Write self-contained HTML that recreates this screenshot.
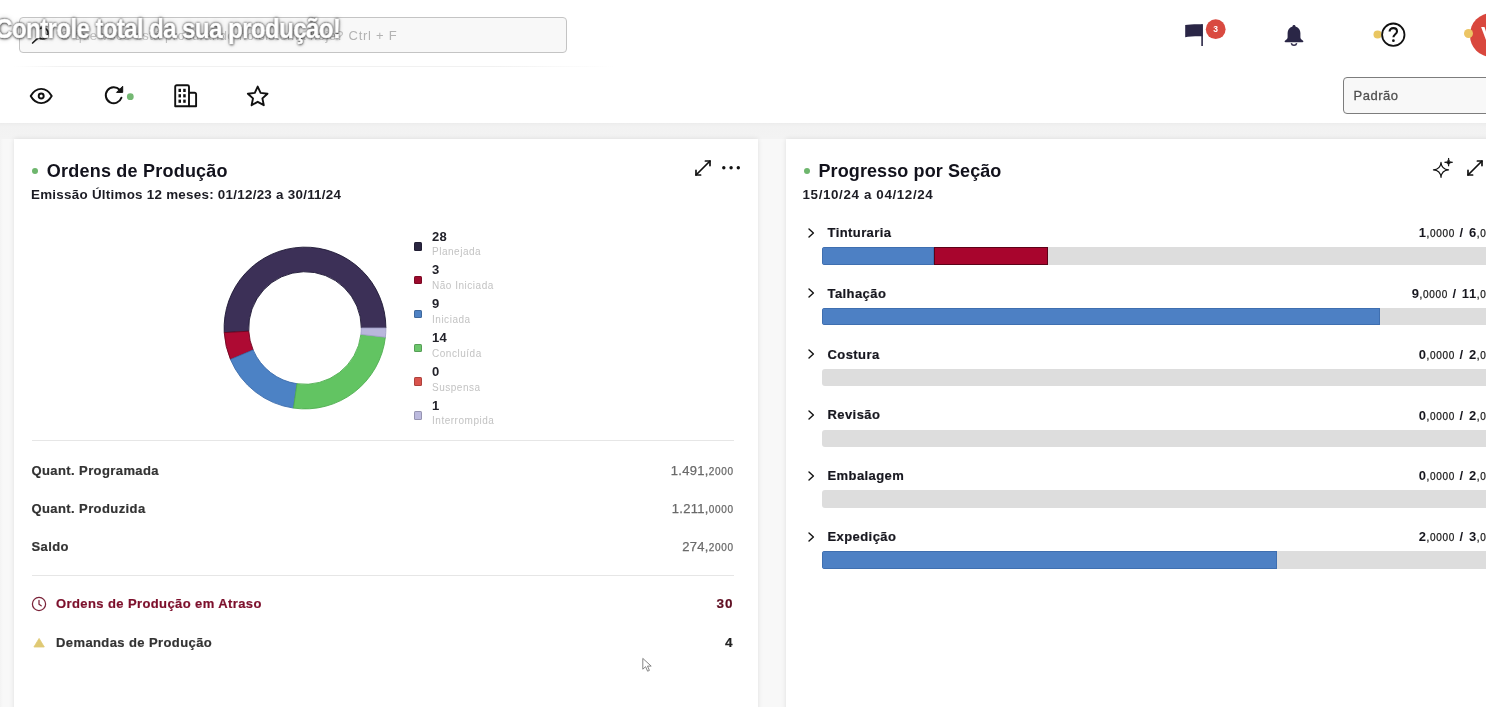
<!DOCTYPE html>
<html lang="pt-BR"><head>
<meta charset="utf-8">
<title>Controle total da sua produção!</title>
<style>
*{box-sizing:border-box;margin:0;padding:0}
html,body{width:1486px;height:707px;overflow:hidden;background:#f8f8f8;font-family:"Liberation Sans",sans-serif;color:#15151f}
#root{position:absolute;left:0;top:0;width:1486px;height:707px;overflow:hidden;will-change:transform;background:#f8f8f8}
.abs{position:absolute}
.t{position:absolute;white-space:nowrap;line-height:1}
#band{left:0;top:122px;width:1486px;height:17px;background:linear-gradient(#e9e9e9 0,#efefef 2.500px,#f2f2f2 5px,#f3f3f3 100%)}
#topbar{left:0;top:0;width:1486px;height:122.600px;background:#fff}
#leftstrip{left:0;top:139px;width:3px;height:600px;background:linear-gradient(90deg,#f3f3f3,#f8f8f8)}
#search{left:18.5px;top:16.800px;width:548px;height:36px;border:1.500px solid #c4c4c4;border-radius:4px;background:#f8f8f8}
#ph{left:60px;top:28.5px;font-size:13px;color:#c2c2c2;letter-spacing:.42px}
#ph2{left:348.5px;top:28.5px;font-size:13px;color:#b3b3b3;letter-spacing:.75px}
#overlay{left:-5.500px;top:15px;will-change:transform;-webkit-text-stroke:.5px #fff;font-size:28px;font-weight:bold;color:#fff;letter-spacing:-.8px;transform:scaleX(.867);transform-origin:0 0;
 text-shadow:0 0 2px rgba(0,0,0,.8),0 0 3px rgba(0,0,0,.5),.5px 1px 3px rgba(0,0,0,.5),0 0 6px rgba(0,0,0,.22)}
#sel{left:1342.5px;top:77px;width:160px;height:36.5px;border:1.5px solid #7d7d7d;border-radius:4px;background:#f8f8f8}
#seltxt{left:1353.5px;top:89px;font-size:13px;color:#505050;letter-spacing:.5px;-webkit-text-stroke:.3px #505050}
.card{position:absolute;background:#fff;box-shadow:0 0 5px rgba(0,0,0,.1)}
#c1{left:14px;top:139px;width:744px;height:600px}
#c2{left:786px;top:139px;width:738px;height:600px}
.h1{font-size:18px;font-weight:bold;color:#12121c;letter-spacing:.22px}
.h2{font-size:13.4px;font-weight:bold;color:#1c1c24;letter-spacing:.26px}
.row{font-size:13px;font-weight:bold;color:#333;letter-spacing:.4px;-webkit-text-stroke:.2px currentColor}
.val{font-size:13px;color:#6a6a6a;text-align:right;letter-spacing:.3px;-webkit-text-stroke:.25px #6a6a6a}
.val small{font-size:10px;letter-spacing:.65px;margin-right:-.65px}
.sep{position:absolute;height:1px;background:#e6e6e6;left:31.5px;width:702px}
.lg-n{font-size:13px;font-weight:bold;color:#22222a;letter-spacing:.3px}
.lg-l{font-size:10px;color:#c3c3c3;letter-spacing:.52px}
.sq{position:absolute;width:8.6px;height:8.6px;border-radius:1.5px;left:413.6px;box-shadow:inset 0 0 0 1px rgba(0,0,0,.2)}
.sec{font-size:13px;font-weight:bold;color:#17171f;letter-spacing:.42px;-webkit-text-stroke:.2px currentColor}
.bar{position:absolute;left:821.5px;width:685px;height:17.5px;border-radius:3px;background:#dddddd;overflow:hidden}
.bar i{position:absolute;top:0;height:100%;display:block}
.sv{font-size:13px;font-weight:bold;color:#17171f;text-align:right;letter-spacing:.55px;word-spacing:1px}
.sv small{font-size:10px;font-weight:normal;color:#1c1c1c;letter-spacing:.7px;margin-right:-.7px;-webkit-text-stroke:.25px #1c1c1c}
</style>
</head>
<body>
<div id="root">
<div id="band" class="abs"></div>
<div id="topbar" class="abs"></div>
<div id="leftstrip" class="abs"></div>

<div class="abs" style="left:14px;top:65.500px;width:600px;height:1.500px;background:linear-gradient(90deg,rgba(238,238,238,0),#f1f1f1 8%,#f1f1f1 80%,rgba(238,238,238,0))"></div>
<!-- search -->
<div id="search" class="abs"></div>
<svg class="abs" style="left:28px;top:24px" width="24" height="24" viewBox="0 0 24 24" fill="none" stroke="#222" stroke-width="1.7" stroke-linecap="round"><circle cx="14.6" cy="9.4" r="5.6"></circle><path d="M10.4 13.6 4.6 19"></path></svg>
<div id="ph" class="t">O que você está procurando no sistema hoje?</div>
<div id="ph2" class="t">Ctrl + F</div>
<div id="overlay" class="t">Controle total da sua produção!</div>

<!-- top-right icons -->
<svg class="abs" style="left:1180px;top:18px" width="50" height="34" viewBox="0 0 50 34">
 <path d="M5.2 6.9 C9 6.2 16 6 22.6 6.2 L22.6 18.2 C16 18 9 18.4 5.2 19.2 Z" fill="#2a2646"></path>
 <path d="M22.1 6.2 V28" stroke="#2a2646" stroke-width="1.6" fill="none"></path>
 <circle cx="35.7" cy="11.2" r="9.9" fill="#d94a40"></circle>
 <text x="35.7" y="14.300" font-family="Liberation Sans, sans-serif" font-weight="bold" font-size="8.500" fill="#fff" text-anchor="middle">3</text>
</svg>
<svg class="abs" style="left:1281px;top:22px" width="26" height="26" viewBox="0 0 26 26">
 <path d="M13 3 c-.9 0-1.5.6-1.5 1.4 C8.300 5.3 6.600 8 6.600 11 v4.300 c0 1.200-.9 2.300-2.400 3.200 c-.8.5-.9 1.700.4 1.700 h16.800 c1.300 0 1.200-1.200.4-1.700 c-1.500-.9-2.400-2-2.400-3.200 V11 c0-3-1.700-5.700-4.900-6.600 C14.500 3.600 13.900 3 13 3z" fill="#2a2646"></path>
 <path d="M10.300 21.200 a2.800 2.800 0 0 0 5.400 0" fill="none" stroke="#2a2646" stroke-width="1.500"></path>
</svg>
<svg class="abs" style="left:1370px;top:20px" width="40" height="30" viewBox="0 0 40 30">
 <circle cx="7.6" cy="14.5" r="4.1" fill="#e9c661"></circle>
 <circle cx="23.3" cy="14.7" r="11.2" fill="#fff" stroke="#111" stroke-width="1.8"></circle>
 <path d="M19.600 11.600 c0-2.200 1.600-3.500 3.700-3.500 s3.700 1.300 3.700 3.300 c0 2.700-3.600 2.900-3.600 5.800" fill="none" stroke="#111" stroke-width="2.100"></path>
 <circle cx="23.4" cy="20.700" r="1.350" fill="#111"></circle>
</svg>
<div class="abs" style="left:1470px;top:13.300px;width:43.400px;height:43.400px;border-radius:50%;background:#d9473d"></div>
<div class="t" style="left:1481px;top:24px;font-size:22px;font-weight:bold;color:#fff">V</div>
<div class="abs" style="left:1464px;top:28.500px;width:9px;height:9px;border-radius:50%;background:#ecc565"></div>

<!-- toolbar icons -->
<svg class="abs" style="left:29px;top:83.500px" width="24" height="24" viewBox="0 0 24 24" fill="none" stroke="#111" stroke-width="1.900" stroke-linejoin="round"><path d="M1.700 12 C4.300 7.300 8 4.900 12.200 4.900 s7.900 2.400 10.500 7.100 C20.100 16.700 16.400 19.100 12.200 19.100 S4.300 16.700 1.700 12z"></path><circle cx="12.200" cy="12" r="2.500"></circle></svg>
<svg class="abs" style="left:102px;top:83px" width="34" height="24" viewBox="0 0 34 24" fill="none" stroke="#111" stroke-width="2" stroke-linecap="round" stroke-linejoin="round"><path d="M17.600 6.700 A8 8 0 1 0 19.400 14.800"></path><path d="M20.700 3.600 V9.400 H14.900z" fill="#111" stroke-width="1"></path><circle cx="28.300" cy="13.700" r="3.400" fill="#74b873" stroke="none"></circle></svg>
<svg class="abs" style="left:172px;top:82px" width="28" height="28" viewBox="0 0 28 28" fill="none" stroke="#111" stroke-width="1.900" stroke-linejoin="round"><path d="M3.200 24.200 V4.800 a1.500 1.500 0 0 1 1.500 -1.500 h10.800 a1.500 1.500 0 0 1 1.500 1.500 V24.200z"></path><path d="M17 10.800 h5.600 a1.500 1.500 0 0 1 1.500 1.500 V24.200 H17"></path><g fill="#111" stroke="none"><rect x="6.500" y="6.800" width="2.500" height="3.200"></rect><rect x="11.200" y="6.800" width="2.500" height="3.200"></rect><rect x="6.500" y="12.200" width="2.500" height="3.200"></rect><rect x="11.200" y="12.200" width="2.500" height="3.200"></rect><rect x="6.500" y="17.600" width="2.500" height="3.200"></rect><rect x="11.200" y="17.600" width="2.500" height="3.200"></rect></g></svg>
<svg class="abs" style="left:245px;top:83px" width="26" height="26" viewBox="0 0 26 26" fill="none" stroke="#111" stroke-width="1.900" stroke-linejoin="round"><path d="M12.700 3.600 l2.900 6.300 6.900.8 -5.100 4.700 1.400 6.800 -6.100-3.400 -6.100 3.400 1.400-6.800 -5.100-4.700 6.900-.8z"></path></svg>

<!-- select -->
<div id="sel" class="abs"></div>
<div id="seltxt" class="t">Padrão</div>

<!-- cards -->
<div id="c1" class="card"></div>
<div id="c2" class="card"></div>

<!-- card 1 header -->
<div class="abs" style="left:31.700px;top:168.400px;width:6px;height:6px;border-radius:50%;background:#6eb66d"></div>
<div id="t1" class="t h1" style="left:46.800px;top:162.200px">Ordens de Produção</div>
<div id="s1" class="t h2" style="left:31px;top:187.700px">Emissão Últimos 12 meses: 01/12/23 a 30/11/24</div>
<svg class="abs" style="left:692px;top:157px" width="22" height="22" viewBox="0 0 22 22" fill="none" stroke="#111" stroke-width="1.700" stroke-linecap="round" stroke-linejoin="round"><path d="M4 18 18 4"></path><path d="M13.400 4 h4.600 v4.600"></path><path d="M4 13.400 v4.600 h4.600"></path></svg>
<svg class="abs" style="left:720px;top:164px" width="22" height="8" viewBox="0 0 22 8" fill="#111"><circle cx="3.800" cy="3.700" r="1.700"></circle><circle cx="11.100" cy="3.700" r="1.700"></circle><circle cx="18.300" cy="3.700" r="1.700"></circle></svg>

<!-- donut -->
<svg id="donut" class="abs" style="left:214px;top:237px" width="182" height="182" viewBox="-91 -91 182 182"><path d="M80.90 0.00 A80.9 80.9 0 1 0 -80.77 4.62 L-56.21 3.21 A56.3 56.3 0 1 1 56.30 0.00Z" fill="#3c3057" stroke="#1d1734" stroke-width=".9" stroke-linejoin="round"></path><path d="M-80.77 4.62 A80.9 80.9 0 0 0 -74.52 31.49 L-51.86 21.92 A56.3 56.3 0 0 1 -56.21 3.21Z" fill="#ae0a33" stroke="#6e0420" stroke-width=".9" stroke-linejoin="round"></path><path d="M-74.52 31.49 A80.9 80.9 0 0 0 -11.51 80.08 L-8.01 55.73 A56.3 56.3 0 0 1 -51.86 21.92Z" fill="#4c82c5" stroke="#3c6cab" stroke-width=".9" stroke-linejoin="round"></path><path d="M-11.51 80.08 A80.9 80.9 0 0 0 80.37 9.22 L55.93 6.42 A56.3 56.3 0 0 1 -8.01 55.73Z" fill="#62c462" stroke="#4fae50" stroke-width=".9" stroke-linejoin="round"></path><path d="M80.37 9.22 A80.9 80.9 0 0 0 80.90 0.00 L56.30 0.00 A56.3 56.3 0 0 1 55.93 6.42Z" fill="#b9b7dc" stroke="#a2a0c8" stroke-width=".9" stroke-linejoin="round"></path></svg>

<!-- legend -->
<div id="legend"><div class="sq" style="top:242.1px;background:#2a2640"></div><div class="t lg-n" style="left:432px;top:229.6px">28</div><div class="t lg-l" style="left:432px;top:247.4px">Planejada</div><div class="sq" style="top:275.9px;background:#9c0a2c"></div><div class="t lg-n" style="left:432px;top:263.4px">3</div><div class="t lg-l" style="left:432px;top:281.2px">Não Iniciada</div><div class="sq" style="top:309.7px;background:#4f82c4"></div><div class="t lg-n" style="left:432px;top:297.2px">9</div><div class="t lg-l" style="left:432px;top:315px">Iniciada</div><div class="sq" style="top:343.5px;background:#6cc66c"></div><div class="t lg-n" style="left:432px;top:331px">14</div><div class="t lg-l" style="left:432px;top:348.8px">Concluída</div><div class="sq" style="top:377.3px;background:#d9534c"></div><div class="t lg-n" style="left:432px;top:364.8px">0</div><div class="t lg-l" style="left:432px;top:382.6px">Suspensa</div><div class="sq" style="top:411.099px;background:#bcbade"></div><div class="t lg-n" style="left:432px;top:398.599px">1</div><div class="t lg-l" style="left:432px;top:416.4px">Interrompida</div></div>

<div class="sep" style="top:440px"></div>
<div id="r1" class="t row" style="left:31.500px;top:464px">Quant. Programada</div>
<div id="r2" class="t row" style="left:31.500px;top:502px">Quant. Produzida</div>
<div id="r3" class="t row" style="left:31.500px;top:540px">Saldo</div>
<div id="v1" class="t val" style="right:753px;top:464px">1.491,<small>2000</small></div>
<div id="v2" class="t val" style="right:753px;top:502px">1.211,<small>0000</small></div>
<div id="v3" class="t val" style="right:753px;top:540px">274,<small>2000</small></div>
<div class="sep" style="top:574.500px"></div>

<svg class="abs" style="left:30px;top:595px" width="18" height="18" viewBox="0 0 18 18" fill="none" stroke="#7a2238" stroke-width="1.250" stroke-linecap="round" stroke-linejoin="round"><circle cx="9" cy="9" r="6.600"></circle><path d="M9 5.300 V9.200 l2.200 1.600"></path></svg>
<div id="r4" class="t row" style="left:56px;top:597px;color:#7c0f2b">Ordens de Produção em Atraso</div>
<div id="v4" class="t row" style="right:752.500px;top:596.800px;color:#5e0c20;font-size:13.500px;letter-spacing:1px">30</div>
<svg class="abs" style="left:32px;top:636px" width="14" height="13" viewBox="0 0 14 13"><path d="M7.100 2.400 12.300 11 H1.900z" fill="#dfc974" stroke="#dfc974" stroke-width=".8" stroke-linejoin="round"></path></svg>
<div id="r5" class="t row" style="left:56px;top:635.500px">Demandas de Produção</div>
<div id="v5" class="t row" style="right:753px;top:635.800px;color:#222;font-size:13.500px">4</div>

<!-- cursor -->
<svg class="abs" style="left:641px;top:657px" width="13" height="16" viewBox="0 0 13 16"><path d="M1.800 1.400 V12.200 L4.600 9.700 L6.600 14.200 L8.400 13.400 L6.500 9.100 H10.200z" fill="#fff" stroke="#777" stroke-width=".9" stroke-linejoin="round"></path></svg>

<!-- card 2 header -->
<div class="abs" style="left:803.600px;top:168.400px;width:6px;height:6px;border-radius:50%;background:#6eb66d"></div>
<div id="t2" class="t h1" style="left:818.500px;top:162.200px;letter-spacing:.1px">Progresso por Seção</div>
<div id="s2" class="t h2" style="left:802.500px;top:187.700px;letter-spacing:.62px">15/10/24 a 04/12/24</div>
<svg class="abs" style="left:1430px;top:155px" width="26" height="26" viewBox="0 0 26 26" fill="none" stroke="#111" stroke-width="1.200" stroke-linejoin="round" stroke-linecap="round">
 <path d="M11 7.300 Q11.500 14.400 18.600 14.900 Q11.500 15.400 11 22.500 Q10.500 15.400 3.400 14.900 Q10.500 14.400 11 7.300z" stroke-width="1.100"></path>
 <path d="M18.600 3.400 C18.800 6 19.500 6.900 22.600 7.300 C19.500 7.700 18.800 8.600 18.600 11.200 C18.400 8.600 17.700 7.700 14.600 7.300 C17.700 6.900 18.400 6 18.600 3.400z" fill="#111" stroke-width=".9"></path>
</svg>
<svg class="abs" style="left:1464px;top:157px" width="22" height="22" viewBox="0 0 22 22" fill="none" stroke="#111" stroke-width="1.700" stroke-linecap="round" stroke-linejoin="round"><path d="M4 18 18 4"></path><path d="M13.400 4 h4.600 v4.600"></path><path d="M4 13.400 v4.600 h4.600"></path></svg>

<div id="sections"><svg class="abs" style="left:806px;top:225.6px" width="10" height="14" viewBox="0 0 10 14" fill="none" stroke="#111" stroke-width="1.400" stroke-linecap="round" stroke-linejoin="round"><path d="M3 3 7.400 7 3 11"></path></svg><div class="t sec" style="left:827.500px;top:226px">Tinturaria</div><div class="t sv" style="right:-18.500px;top:226.2px">1<small>,0000</small> / 6<small>,0000</small></div><div class="bar" style="top:247.1px"><i style="left:0px;width:112.6px;background:#4d80c4;box-shadow:inset 0 0 0 1px #3f6fb0"></i><i style="left:112.6px;width:114.4px;background:#a8052d;box-shadow:inset 0 0 0 1px #5c0218"></i></div><svg class="abs" style="left:806px;top:286.4px" width="10" height="14" viewBox="0 0 10 14" fill="none" stroke="#111" stroke-width="1.400" stroke-linecap="round" stroke-linejoin="round"><path d="M3 3 7.400 7 3 11"></path></svg><div class="t sec" style="left:827.500px;top:286.799px">Talhação</div><div class="t sv" style="right:-18.500px;top:287px">9<small>,0000</small> / 11<small>,0000</small></div><div class="bar" style="top:307.9px"><i style="left:0px;width:558.5px;background:#4d80c4;box-shadow:inset 0 0 0 1px #3f6fb0"></i></div><svg class="abs" style="left:806px;top:347.2px" width="10" height="14" viewBox="0 0 10 14" fill="none" stroke="#111" stroke-width="1.400" stroke-linecap="round" stroke-linejoin="round"><path d="M3 3 7.400 7 3 11"></path></svg><div class="t sec" style="left:827.500px;top:347.599px">Costura</div><div class="t sv" style="right:-18.500px;top:347.8px">0<small>,0000</small> / 2<small>,0000</small></div><div class="bar" style="top:368.7px"></div><svg class="abs" style="left:806px;top:408px" width="10" height="14" viewBox="0 0 10 14" fill="none" stroke="#111" stroke-width="1.400" stroke-linecap="round" stroke-linejoin="round"><path d="M3 3 7.400 7 3 11"></path></svg><div class="t sec" style="left:827.500px;top:408.4px">Revisão</div><div class="t sv" style="right:-18.500px;top:408.6px">0<small>,0000</small> / 2<small>,0000</small></div><div class="bar" style="top:429.5px"></div><svg class="abs" style="left:806px;top:468.799px" width="10" height="14" viewBox="0 0 10 14" fill="none" stroke="#111" stroke-width="1.400" stroke-linecap="round" stroke-linejoin="round"><path d="M3 3 7.400 7 3 11"></path></svg><div class="t sec" style="left:827.500px;top:469.199px">Embalagem</div><div class="t sv" style="right:-18.500px;top:469.4px">0<small>,0000</small> / 2<small>,0000</small></div><div class="bar" style="top:490.299px"></div><svg class="abs" style="left:806px;top:529.6px" width="10" height="14" viewBox="0 0 10 14" fill="none" stroke="#111" stroke-width="1.400" stroke-linecap="round" stroke-linejoin="round"><path d="M3 3 7.400 7 3 11"></path></svg><div class="t sec" style="left:827.500px;top:530px">Expedição</div><div class="t sv" style="right:-18.500px;top:530.2px">2<small>,0000</small> / 3<small>,0000</small></div><div class="bar" style="top:551.1px"><i style="left:0px;width:455px;background:#4d80c4;box-shadow:inset 0 0 0 1px #3f6fb0"></i></div></div>

</div>



</body></html>
